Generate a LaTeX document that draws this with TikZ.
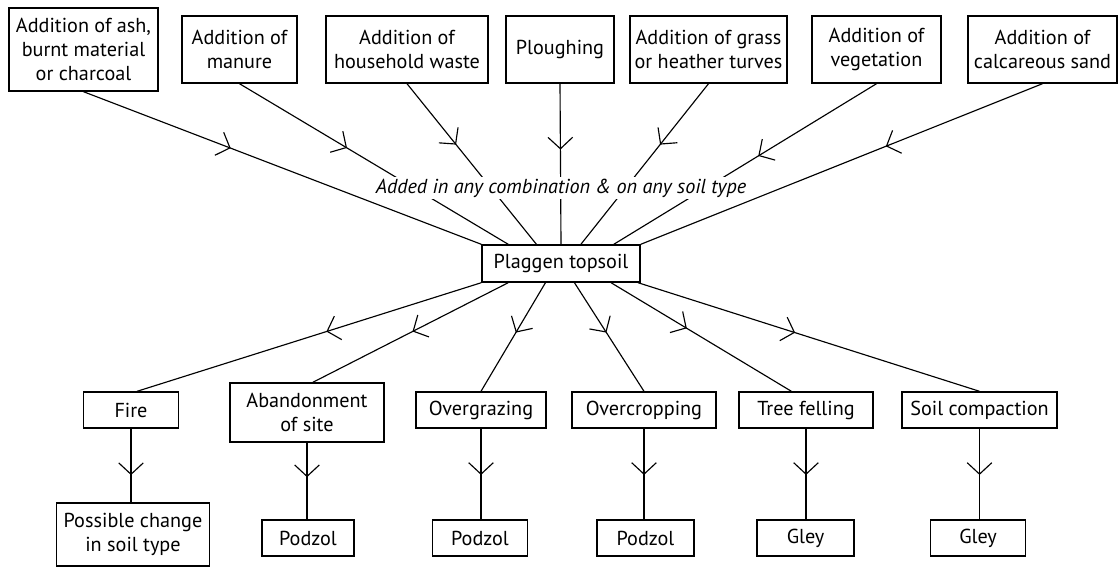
\documentclass[tikz,border=0pt]{standalone}
\usepackage{fontspec}
\setmainfont{PT Sans}
\usetikzlibrary{arrows.meta,decorations.markings}

\tikzset{
  box/.style={draw,line width=0.8pt,align=center,inner sep=1pt,
    font=\fontsize{11.5}{13.7}\selectfont},
  link/.style={line width=0.65pt,postaction={decorate},
    decoration={markings,mark=at position #1 with {\arrow{Straight Barb[length=6.5pt,width=14pt]}}}},
  link/.default=0.5
}

\begin{document}
\begin{tikzpicture}[x=0.02cm,y=-0.02cm]
  \useasboundingbox (0,0) rectangle (1118,568);

  % ---------------- top row: what is added ----------------
  \foreach \n/\x/\w/\h/\t in {
      ash/83.5/149/83/{Addition of ash,\\burnt material\\or charcoal},
      manure/239.5/115/67/{Addition of\\manure},
      waste/407/162/67/{Addition of\\household waste},
      plough/560/108/67/{Ploughing},
      turves/708.5/157/67/{Addition of grass\\or heather turves},
      veg/876.5/129/67/{Addition of\\vegetation},
      sand/1042.5/149/67/{Addition of\\calcareous sand}}{
    \node[box,minimum width=\w*0.02cm,minimum height=\h*0.02cm] (\n) at (\x,49.5) {\t};
  }

  % centre box
  \node[box,minimum width=158*0.02cm,minimum height=37*0.02cm] (plag) at (561,263.5) {Plaggen topsoil};

  % ---------------- middle row: what happens next ----------------
  \foreach \n/\x/\y/\w/\h/\t in {
      fire/131/410/95/36/{Fire},
      aband/307/412.5/154/59/{Abandonment\\of site},
      graze/481/410/130/36/{Overgrazing},
      crop/644/410/144/36/{Overcropping},
      tree/806/410/134/36/{Tree felling},
      compact/979.5/410/155/36/{Soil compaction}}{
    \node[box,minimum width=\w*0.02cm,minimum height=\h*0.02cm] (\n) at (\x,\y) {\t};
  }

  % ---------------- bottom row: resulting soil ----------------
  \foreach \n/\x/\y/\w/\h/\t in {
      change/133/534.5/153/63/{Possible change\\in soil type},
      pod1/308/538/92/36/{Podzol},
      pod2/480/538/95/36/{Podzol},
      pod3/645.5/538/97/36/{Podzol},
      gley1/805.5/538/97/36/{Gley},
      gley2/978/538/95/36/{Gley}}{
    \node[box,minimum width=\w*0.02cm,minimum height=\h*0.02cm] (\n) at (\x,\y) {\t};
  }

  % links into the topsoil
  \foreach \n/\a/\p in {ash/north west/0.37, manure/160/0.4, waste/142/0.38,
      plough/north/0.41, turves/44/0.38, veg/20/0.45, sand/north east/0.39}
    \draw[link=\p] (\n.south) -- (plag.\a);

  % links out of the topsoil
  \foreach \n/\a/\b/\p in {fire/south west/72/0.45, aband/200/79/0.49,
      graze/231/north/0.46, crop/305/north/0.46, tree/339/128/0.42, compact/346/north/0.46}
    \draw[link=\p] (plag.\a) -- (\n.\b);

  % down to the soil types
  \foreach \m/\b/\p in {fire/change/0.63, aband/pod1/0.45, graze/pod2/0.51,
      crop/pod3/0.51, tree/gley1/0.51, compact/gley2/0.51}
    \draw[link=\p] (\m.south) -- (\m.south |- \b.north);

  \node[fill=white,inner sep=1pt,font=\fontsize{11.5}{13.7}\selectfont\itshape] (added) at (561,188)
    {Added in any combination \& on any soil type};
\end{tikzpicture}
\end{document}
